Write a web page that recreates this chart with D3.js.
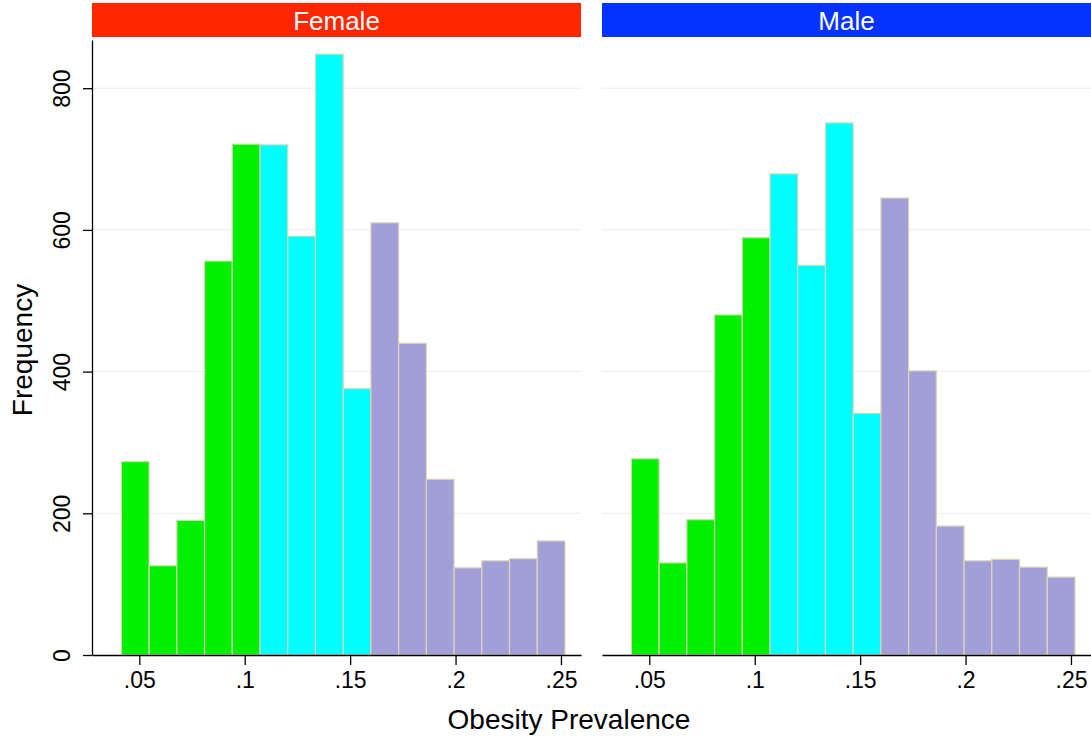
<!DOCTYPE html>
<html>
<head>
<meta charset="utf-8">
<script src="https://cdn.jsdelivr.net/npm/d3@7"></script>
<style>
  html, body { margin: 0; padding: 0; background: #ffffff; }
  svg { display: block; font-family: "Liberation Sans", Arial, Helvetica, sans-serif; }
</style>
</head>
<body>
<svg id="chart" width="1091" height="740"></svg>
<script>
// ---- data ----
const panels = ["Female", "Male"];
const binStart = 0.0415;
const binWidth = 0.01315;
const femaleCounts = [273, 126, 190, 556, 721, 720, 591, 848, 376, 610, 440, 248, 123, 133, 136, 161];
const maleCounts   = [277, 130, 191, 480, 589, 679, 550, 751, 341, 645, 401, 182, 133, 135, 124, 110];
const binGroup     = [0, 0, 0, 0, 0, 1, 1, 1, 1, 2, 2, 2, 2, 2, 2, 2];
const groupColors  = ["#00f000", "#00ffff", "#a29fd8"];
const headerColors = ["#ff2600", "#0433ff"];
const xTicks = [0.05, 0.1, 0.15, 0.2, 0.25];
const xTickLabels = [".05", ".1", ".15", ".2", ".25"];
const yTicks = [0, 200, 400, 600, 800];
const xTitle = "Obesity Prevalence";
const yTitle = "Frequency";

// ---- layout ----
const svg = d3.select("#chart");
const panelLeft = [92, 602];
const panelW = 489;
const plotTop = 40, plotBottom = 655;
const xDomain = [0.02756, 0.2595];
const yDomain = [0, 868];
const tickFont = 23;

const y = d3.scaleLinear().domain(yDomain).range([plotBottom, plotTop]);

const countsByPanel = [femaleCounts, maleCounts];

panels.forEach((name, p) => {
  const x0 = panelLeft[p];
  const x = d3.scaleLinear().domain(xDomain).range([x0, x0 + panelW]);
  const g = svg.append("g");

  // header strip
  g.append("rect")
    .attr("x", x0).attr("y", 3).attr("width", panelW).attr("height", 34)
    .attr("fill", headerColors[p]);
  g.append("text")
    .attr("x", x0 + panelW / 2).attr("y", 30)
    .attr("text-anchor", "middle")
    .attr("fill", "#ffffff")
    .attr("font-size", 26)
    .text(name);

  // gridlines
  g.selectAll("line.grid").data(yTicks.filter(t => t > 0)).enter()
    .append("line").attr("class", "grid")
    .attr("x1", x0).attr("x2", x0 + panelW)
    .attr("y1", d => y(d)).attr("y2", d => y(d))
    .attr("stroke", "#ececec").attr("stroke-width", 1);

  // bars
  const data = countsByPanel[p].map((c, i) => ({
    lo: binStart + i * binWidth, hi: binStart + (i + 1) * binWidth, c, grp: binGroup[i]
  }));
  g.selectAll("rect.bar").data(data).enter()
    .append("rect").attr("class", "bar")
    .attr("x", d => x(d.lo)).attr("width", d => x(d.hi) - x(d.lo))
    .attr("y", d => y(d.c)).attr("height", d => y(0) - y(d.c))
    .attr("fill", d => groupColors[d.grp])
    .attr("stroke", "#dcd6b4").attr("stroke-width", 1.2);

  // x axis
  const xAxis = d3.axisBottom(x).tickValues(xTicks)
    .tickFormat((d, i) => xTickLabels[i]).tickSize(10).tickSizeOuter(0).tickPadding(7);
  const gx = g.append("g").attr("transform", `translate(0,${plotBottom})`).call(xAxis);
  gx.select(".domain").attr("stroke", "#000").attr("stroke-width", 1.3);
  gx.selectAll(".tick line").attr("stroke", "#000").attr("stroke-width", 1.3);
  gx.selectAll(".tick text").attr("font-size", tickFont).attr("fill", "#000")
    .attr("font-family", "Liberation Sans, Arial, sans-serif");

  // y axis (left panel only)
  if (p === 0) {
    const yAxis = d3.axisLeft(y).tickValues(yTicks).tickSize(9).tickSizeOuter(0).tickPadding(0);
    const gy = g.append("g").attr("transform", `translate(${x0},0)`).call(yAxis);
    gy.select(".domain").attr("stroke", "#000").attr("stroke-width", 1.3);
    gy.selectAll(".tick line").attr("stroke", "#000").attr("stroke-width", 1.3);
    gy.selectAll(".tick text")
      .attr("font-size", tickFont).attr("fill", "#000")
      .attr("font-family", "Liberation Sans, Arial, sans-serif")
      .attr("text-anchor", "middle")
      .attr("x", null).attr("dy", null)
      .attr("transform", "translate(-30,0) rotate(-90)")
      .attr("y", 0)
      .attr("dominant-baseline", "central");
  }
});

// axis titles
svg.append("text")
  .attr("x", 569).attr("y", 729)
  .attr("text-anchor", "middle").attr("font-size", 28).attr("fill", "#000")
  .text(xTitle);
svg.append("text")
  .attr("transform", `translate(32,350) rotate(-90)`)
  .attr("text-anchor", "middle").attr("font-size", 28).attr("fill", "#000")
  .text(yTitle);
</script>
</body>
</html>
